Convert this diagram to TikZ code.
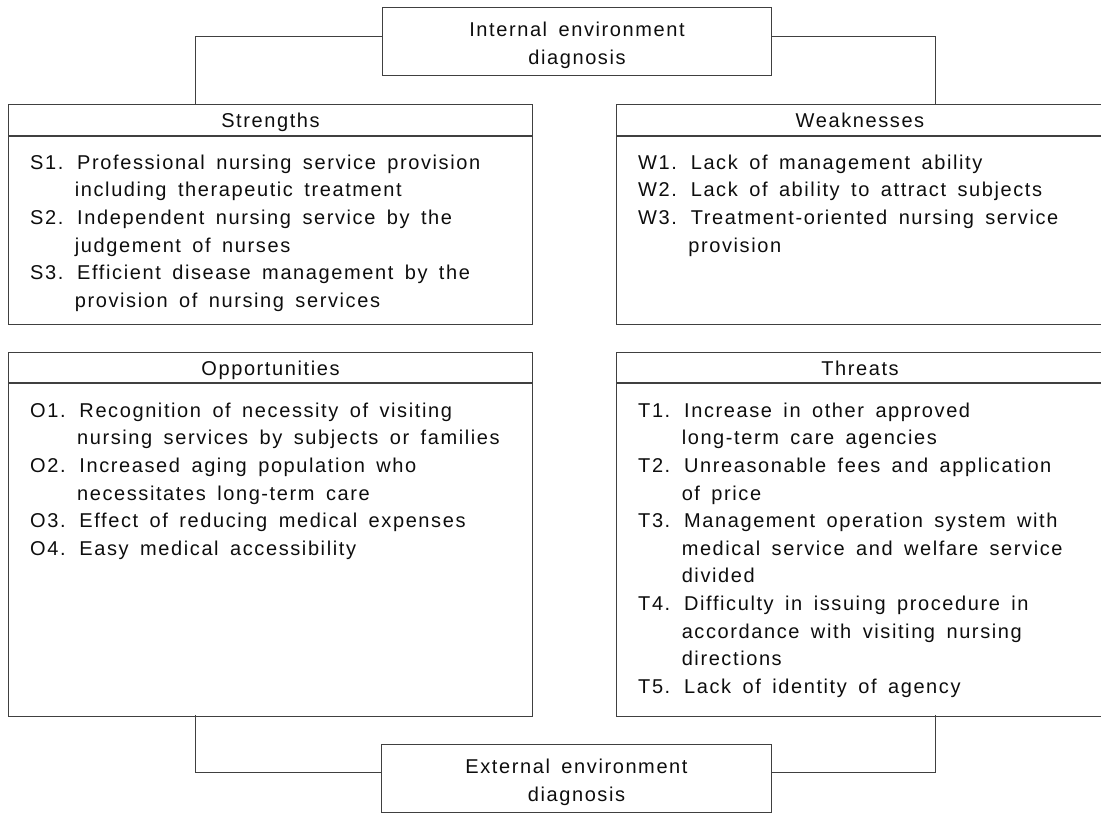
\documentclass[tikz,border=0pt]{standalone}
\usepackage{fontspec}
\setmainfont{Liberation Sans}[LetterSpace=8, WordSpace=1.6]
\usetikzlibrary{positioning}

\newcommand{\hang}[1]{\phantom{#1}\ }

\begin{document}
\begin{tikzpicture}[x=1pt, y=-1pt,
  every node/.style = {text=black!95, font=\fontsize{20}{27.6}\selectfont},
  box/.style = {draw=black!75, line width=1pt, inner sep=0pt},
  headbox/.style = {box, text height=15pt, text depth=0pt},
  listtext/.style = {anchor=north west, align=left, inner sep=0pt},
  link/.style = {draw=black!75, line width=1pt}]
  \useasboundingbox (0,0) rectangle (1101,812);

  \node[box, minimum width=389pt, minimum height=68pt, anchor=north west] (internal) at (382,7) {};
  \node[anchor=north, align=center, inner sep=0pt] (internal-text) at ([yshift=-14.5pt]internal.north)
    {\rule{0pt}{15pt}Internal environment\\diagnosis};

  \node[headbox, minimum width=524pt, minimum height=31pt, anchor=north west] (S-head) at (8,104) {Strengths};
  \node[box, minimum width=524pt, minimum height=188pt, below=0pt of S-head] (S-body) {};
  \node[listtext] (S-list) at ([xshift=22pt, yshift=-18pt]S-body.north west)
    {\rule{0pt}{15pt}S1. Professional nursing service provision\\
     \hang{S1.}including therapeutic treatment\\
     S2. Independent nursing service by the\\
     \hang{S2.}judgement of nurses\\
     S3. Efficient disease management by the\\
     \hang{S3.}provision of nursing services};

  \node[headbox, minimum width=487pt, minimum height=31pt, anchor=north west] (W-head) at (616,104) {Weaknesses};
  \node[box, minimum width=487pt, minimum height=188pt, below=0pt of W-head] (W-body) {};
  \node[listtext] (W-list) at ([xshift=22pt, yshift=-18pt]W-body.north west)
    {\rule{0pt}{15pt}W1. Lack of management ability\\
     W2. Lack of ability to attract subjects\\
     W3. Treatment-oriented nursing service\\
     \hang{W3.}provision};

  \node[headbox, minimum width=524pt, minimum height=30pt, anchor=north west] (O-head) at (8,352) {Opportunities};
  \node[box, minimum width=524pt, minimum height=333pt, below=0pt of O-head] (O-body) {};
  \node[listtext] (O-list) at ([xshift=22pt, yshift=-19pt]O-body.north west)
    {\rule{0pt}{15pt}O1. Recognition of necessity of visiting\\
     \hang{O1.}nursing services by subjects or families\\
     O2. Increased aging population who\\
     \hang{O2.}necessitates long-term care\\
     O3. Effect of reducing medical expenses\\
     O4. Easy medical accessibility};

  \node[headbox, minimum width=487pt, minimum height=30pt, anchor=north west] (T-head) at (616,352) {Threats};
  \node[box, minimum width=487pt, minimum height=333pt, below=0pt of T-head] (T-body) {};
  \node[listtext] (T-list) at ([xshift=22pt, yshift=-19pt]T-body.north west)
    {\rule{0pt}{15pt}T1. Increase in other approved\\
     \hang{T1.}long-term care agencies\\
     T2. Unreasonable fees and application\\
     \hang{T2.}of price\\
     T3. Management operation system with\\
     \hang{T3.}medical service and welfare service\\
     \hang{T3.}divided\\
     T4. Difficulty in issuing procedure in\\
     \hang{T4.}accordance with visiting nursing\\
     \hang{T4.}directions\\
     T5. Lack of identity of agency};

  \node[box, minimum width=390pt, minimum height=68pt, anchor=north west] (external) at (381,744) {};
  \node[anchor=north, align=center, inner sep=0pt] (external-text) at ([yshift=-14.5pt]external.north)
    {\rule{0pt}{15pt}External environment\\diagnosis};

  \coordinate (S-in) at (195,104);
  \coordinate (W-in) at (935,104);
  \coordinate (O-out) at (195,715);
  \coordinate (T-out) at (935,715);
  \draw[link] ([yshift=-29pt]internal.north west) -| (S-in);
  \draw[link] ([yshift=-29pt]internal.north east) -| (W-in);
  \draw[link] ([yshift=-28pt]external.north west) -| (O-out);
  \draw[link] ([yshift=-28pt]external.north east) -| (T-out);
\end{tikzpicture}
\end{document}
